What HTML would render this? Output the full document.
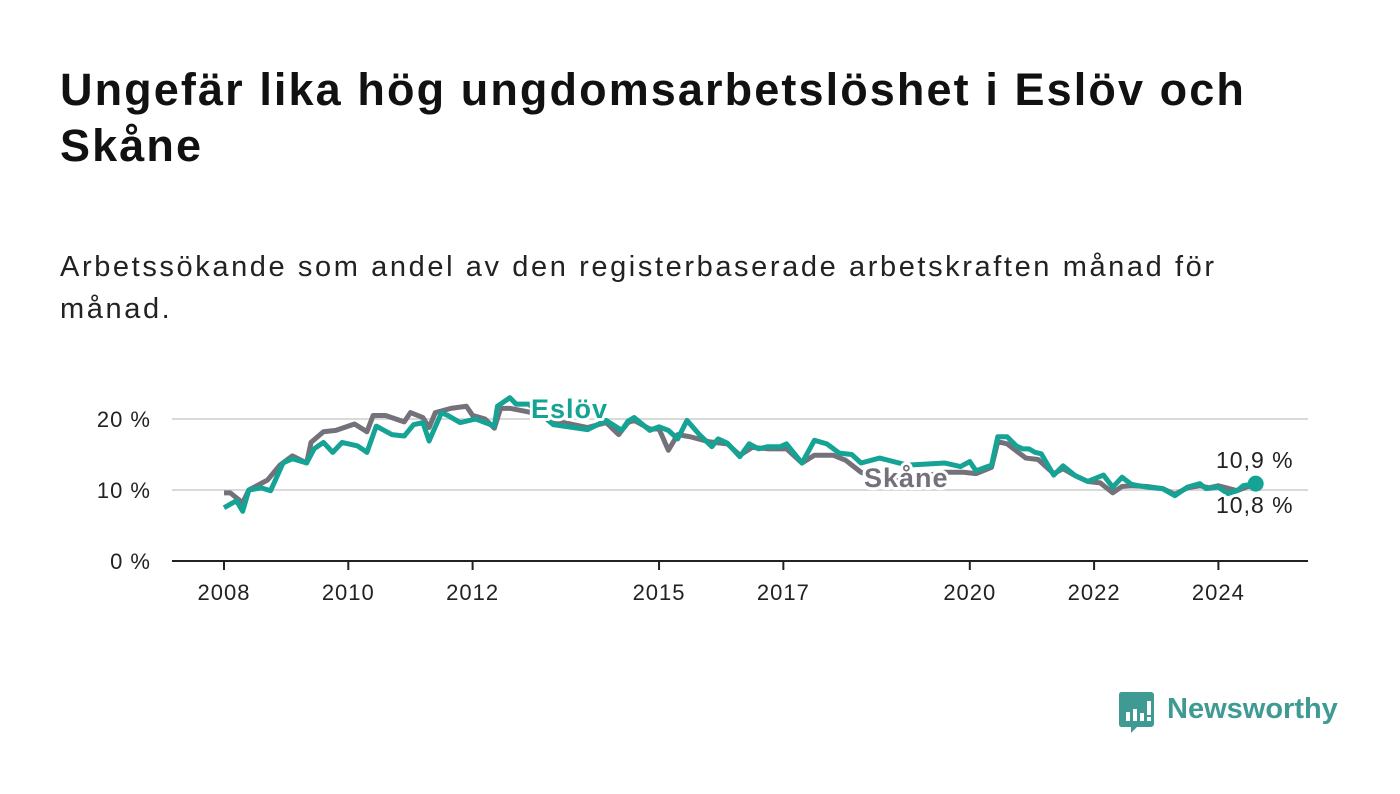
<!DOCTYPE html>
<html><head><meta charset="utf-8"><style>
body{margin:0;width:1400px;height:794px;background:#fff;font-family:"Liberation Sans","DejaVu Sans",sans-serif;color:#111;overflow:hidden;position:relative}
h1{position:absolute;left:60px;top:62px;margin:0;font-size:45px;line-height:56px;font-weight:bold;letter-spacing:2.1px;width:1320px;color:#111}
p.sub{position:absolute;left:60px;top:246px;margin:0;font-size:29px;line-height:42px;letter-spacing:2.6px;color:#222;width:1320px}
svg{position:absolute;left:0;top:0}
</style></head><body>
<h1>Ungefär lika hög ungdomsarbetslöshet i Eslöv och<br>Skåne</h1>
<p class="sub">Arbetssökande som andel av den registerbaserade arbetskraften månad för<br>månad.</p>
<svg id="chart" width="1400" height="794"></svg>
<div style="position:absolute;left:1119px;top:692px;display:flex;align-items:center">
<svg width="36" height="42" style="position:relative"><path d="M2 0h30a3 3 0 0 1 3 3v29a3 3 0 0 1-3 3H18l-6 6v-6H2a3 3 0 0 1-2-3V3a3 3 0 0 1 2-3z" fill="#3f9a93"/><rect x="7" y="20" width="4" height="9" fill="#fff"/><rect x="14" y="17" width="4" height="12" fill="#fff"/><rect x="21" y="21" width="4" height="8" fill="#fff"/><rect x="28" y="9" width="4" height="14" fill="#fff"/><rect x="28" y="25" width="4" height="4" fill="#fff"/></svg>
<span style="margin-left:12px;font-size:29px;font-weight:bold;color:#3f9a93;margin-top:-8px">Newsworthy</span></div>
<script>
const yearTicks=[2008,2010,2012,2015,2017,2020,2022,2024];
const yTicks=[0,10,20];
const eslovYears=[2008.0,2008.2,2008.3,2008.4,2008.6,2008.75,2008.95,2009.1,2009.33,2009.45,2009.6,2009.75,2009.9,2010.15,2010.3,2010.45,2010.7,2010.9,2011.05,2011.2,2011.3,2011.5,2011.6,2011.8,2012.05,2012.35,2012.4,2012.6,2012.7,2012.9,2013.3,2013.85,2014.15,2014.4,2014.5,2014.6,2014.85,2015.0,2015.15,2015.3,2015.45,2015.65,2015.85,2015.95,2016.1,2016.3,2016.45,2016.6,2016.75,2016.95,2017.05,2017.3,2017.5,2017.7,2017.9,2018.1,2018.25,2018.55,2019.0,2019.6,2019.85,2020.0,2020.1,2020.35,2020.45,2020.6,2020.75,2020.85,2020.95,2021.05,2021.15,2021.35,2021.5,2021.7,2021.9,2022.15,2022.3,2022.45,2022.6,2022.85,2023.1,2023.3,2023.5,2023.7,2023.8,2024.0,2024.15,2024.3,2024.4,2024.6];
const eslovVals=[7.5,8.5,7.0,10.0,10.3,9.9,13.8,14.4,13.8,15.8,16.7,15.3,16.7,16.2,15.3,19.0,17.8,17.6,19.2,19.5,16.9,20.9,20.5,19.5,20.0,19.0,21.8,23.0,22.1,22.1,19.2,18.5,19.8,18.4,19.7,20.2,18.4,18.9,18.4,17.2,19.8,17.8,16.1,17.2,16.6,14.7,16.5,15.8,16.1,16.1,16.5,13.8,17.0,16.5,15.2,15.0,13.8,14.5,13.5,13.8,13.3,14.0,12.7,13.5,17.5,17.5,16.2,15.8,15.8,15.3,15.1,12.1,13.4,12.0,11.2,12.1,10.4,11.8,10.8,10.4,10.2,9.2,10.4,10.9,10.2,10.4,9.5,9.9,10.6,10.9];
const skaneYears=[2008.0,2008.1,2008.3,2008.4,2008.7,2008.9,2009.1,2009.33,2009.4,2009.6,2009.8,2010.1,2010.3,2010.4,2010.6,2010.9,2011.0,2011.2,2011.3,2011.4,2011.65,2011.9,2012.0,2012.2,2012.35,2012.45,2012.6,2012.9,2013.3,2013.85,2014.15,2014.35,2014.5,2014.6,2014.85,2015.0,2015.15,2015.3,2015.5,2015.8,2016.1,2016.3,2016.5,2016.75,2017.05,2017.3,2017.5,2017.8,2018.0,2018.25,2018.6,2019.0,2019.6,2019.9,2020.1,2020.35,2020.45,2020.6,2020.9,2021.1,2021.35,2021.5,2021.7,2021.9,2022.1,2022.3,2022.45,2022.6,2022.85,2023.1,2023.3,2023.5,2023.7,2023.85,2024.0,2024.3,2024.45,2024.6];
const skaneVals=[9.6,9.6,8.2,10.0,11.4,13.5,14.8,13.8,16.7,18.2,18.4,19.3,18.2,20.5,20.5,19.6,20.9,20.2,18.8,20.9,21.5,21.8,20.5,20.0,18.7,21.5,21.5,21.0,19.8,18.8,19.5,17.8,19.5,19.8,18.6,18.6,15.6,17.8,17.5,16.8,16.5,14.9,16.0,15.8,15.8,13.8,14.9,14.9,14.2,12.5,11.5,11.5,12.5,12.5,12.3,13.2,16.8,16.5,14.5,14.3,12.3,13.0,12.0,11.2,11.0,9.6,10.5,10.6,10.5,10.2,9.4,10.3,10.6,10.3,10.6,9.9,10.4,10.8];
const ns="http://www.w3.org/2000/svg",svg=document.getElementById('chart');
const X=y=>224+(y-2008)*62.15, Y=v=>561-v*7.1;
function mk(t,a,p){const e=document.createElementNS(ns,t);for(const k in a)e.setAttribute(k,a[k]);(p||svg).appendChild(e);return e;}
yTicks.forEach(v=>{if(v>0){const l=mk('line',{x1:172,x2:1308,y1:Y(v),y2:Y(v),stroke:'#d9d9d9','stroke-width':2});

}
const t=mk('text',{x:151,y:Y(v)+8,'text-anchor':'end','font-size':22,'letter-spacing':1,fill:'#222'});t.textContent=v+' %';

});
const ax=mk('line',{x1:172,x2:1308,y1:561,y2:561,stroke:'#222','stroke-width':2});


yearTicks.forEach(yr=>{const tk=mk('line',{x1:X(yr),x2:X(yr),y1:561,y2:570,stroke:'#222','stroke-width':2});


const t=mk('text',{x:X(yr),y:600,'text-anchor':'middle','font-size':22,'letter-spacing':1,fill:'#222'});t.textContent=yr;

});
function line(ys,vs,c,n){const p=mk('polyline',{points:ys.map((y,i)=>X(y)+','+Y(vs[i])).join(' '),fill:'none',stroke:c,'stroke-width':5,'stroke-linejoin':'round'});

}
line(skaneYears,skaneVals,'#75717a','skane-line');
line(eslovYears,eslovVals,'#14a394','eslov-line');
const lastE=eslovVals[eslovVals.length-1],lastS=skaneVals[skaneVals.length-1];
const dot=mk('circle',{cx:X(eslovYears[eslovYears.length-1]),cy:Y(lastE),r:8,fill:'#14a394'});


function lab(x,y,s,c,n,b,sz){const t=mk('text',{x:x,y:y,fill:c,'font-size':sz,'font-weight':b?'bold':'normal','letter-spacing':1,stroke:'#fff','stroke-width':6,'paint-order':'stroke','stroke-linejoin':'round'});t.textContent=s;

}
lab(531,418,'Eslöv','#14a394','eslov-label',true,27);
lab(864,487,'Skåne','#75717a','skane-label',true,27);
lab(1216,468,String(lastE).replace('.',',')+' %','#222','eslov-end-value',false,23);
lab(1216,513,String(lastS).replace('.',',')+' %','#222','skane-end-value',false,23);
</script>
</body></html>
